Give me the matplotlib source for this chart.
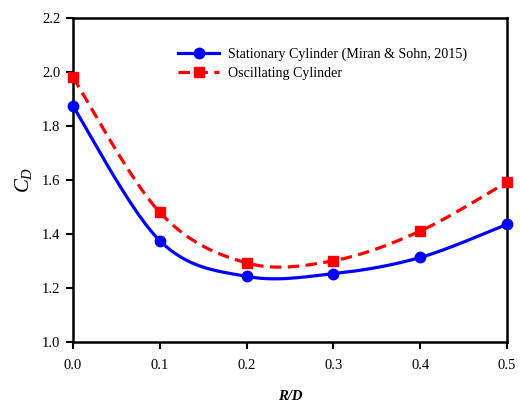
import matplotlib
matplotlib.use('Agg')
import matplotlib.pyplot as plt
import numpy as np

plt.rcParams['font.family'] = ['Liberation Serif', 'DejaVu Serif']
plt.rcParams['mathtext.fontset'] = 'custom'
plt.rcParams['mathtext.it'] = 'Liberation Serif:italic'
plt.rcParams['mathtext.rm'] = 'Liberation Serif'

rd = [0.0, 0.1, 0.2, 0.3, 0.4, 0.5]
cd_stationary = [1.873, 1.375, 1.243, 1.253, 1.313, 1.436]
cd_oscillating = [1.98, 1.48, 1.293, 1.301, 1.411, 1.592]


def smooth(x, y, n=40):
    # catmull-rom path through the points, ends repeated like a spreadsheet "smoothed line"
    x = np.asarray(x, float)
    y = np.asarray(y, float)
    px = np.concatenate([[x[0]], x, [x[-1]]])
    py = np.concatenate([[y[0]], y, [y[-1]]])
    xs, ys = [], []
    t = np.linspace(0, 1, n)
    for i in range(1, len(px) - 2):
        for p, out in ((px, xs), (py, ys)):
            p0, p1, p2, p3 = p[i - 1], p[i], p[i + 1], p[i + 2]
            out.extend(0.5 * (2 * p1 + (-p0 + p2) * t
                              + (2 * p0 - 5 * p1 + 4 * p2 - p3) * t ** 2
                              + (-p0 + 3 * p1 - 3 * p2 + p3) * t ** 3))
    return np.array(xs), np.array(ys)


fig = plt.figure(figsize=(5.2, 4.07), dpi=100)
ax = fig.add_axes([73 / 520, 1 - 342 / 407, 434 / 520, 324 / 407])

sx, sy = smooth(rd, cd_stationary)
ox, oy = smooth(rd, cd_oscillating)
ax.plot(sx, sy, color='#0000ff', lw=2.3, solid_capstyle='butt')
ax.plot(ox, oy, color='#ff0000', lw=2.3, dashes=(3.6, 2.0))
ax.plot(rd, cd_stationary, 'o', color='#0000ff', ms=7.5, clip_on=False, zorder=4)
ax.plot(rd, cd_oscillating, 's', color='#ff0000', ms=7, clip_on=False, zorder=4)

# empty handles just for the legend
ax.plot([], [], color='#0000ff', lw=2.3, marker='o', ms=7.5,
        label='Stationary Cylinder (Miran & Sohn, 2015)')
ax.plot([], [], color='#ff0000', lw=2.3, marker='s', ms=7, dashes=(3.6, 2.0),
        label='Oscillating Cylinder')
ax.legend(loc='upper left', bbox_to_anchor=(0.23, 0.925), frameon=False,
          fontsize=10.1, handlelength=2.9, handletextpad=0.6, labelspacing=0.42,
          borderaxespad=0)

ax.set_xlim(0, 0.5)
ax.set_ylim(1.0, 2.2)
ax.set_xticks(rd)
ax.set_xticklabels([f'{v:.1f}' for v in rd])
yt = np.arange(1.0, 2.21, 0.2)
ax.set_yticks(yt)
ax.set_yticklabels([f'{v:.1f}' for v in yt])
ax.tick_params(direction='out', length=5, width=1.5, labelsize=10.5, colors='black')
ax.tick_params(axis='y', pad=4)
ax.tick_params(axis='x', pad=7)
for s in ax.spines.values():
    s.set_linewidth(1.8)

ax.set_xlabel('R/D', fontsize=10.5, fontweight='bold', style='italic', labelpad=13)
ax.set_ylabel('$C_D$', fontsize=15, labelpad=6)

fig.savefig('out.png', dpi=100)
